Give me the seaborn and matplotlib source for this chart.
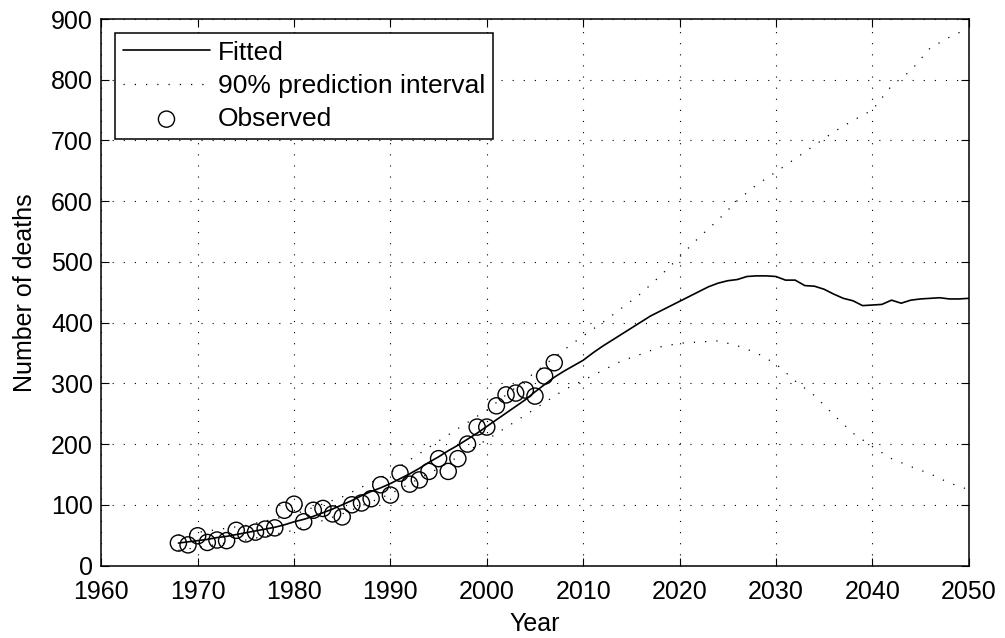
import numpy as np
import pandas as pd
import matplotlib
matplotlib.use("Agg")
import matplotlib.pyplot as plt
import seaborn as sns

# Observed annual deaths
obs_years = list(range(1968, 2008))
obs_deaths = [37, 34, 49, 38, 42, 41, 58, 52, 55, 60, 62, 91, 101, 72, 91, 94, 85, 80,
              100, 103, 110, 133, 116, 152, 134, 141, 155, 176, 155, 176, 200, 228,
              228, 263, 281, 284, 289, 279, 312, 334]

# Fitted model and projection
fit_years = list(range(1968, 2051))
fit_deaths = [37, 39, 41, 43, 46, 48, 51, 54, 57, 60, 63, 67,
              72, 76, 81, 87, 93, 100, 107, 115, 122, 128,
              135, 143, 151, 160, 170, 179, 189, 198, 208, 218,
              229, 240, 251, 262, 273, 286, 298, 310, 320, 329,
              338, 350, 361, 371, 381, 391, 401, 411, 419, 427,
              435, 443, 451, 459, 465, 469, 471, 476, 477, 477,
              476, 470, 470, 461, 460, 455, 447, 440, 436, 428,
              429, 430, 437, 432, 437, 439, 440, 441, 439, 439, 440]

# 90% prediction interval bounds
pi_years = [1968, 1975, 1980, 1985, 1990, 1995, 2000, 2005, 2008, 2010, 2012, 2014,
            2016, 2018, 2020, 2022, 2024, 2026, 2028, 2030, 2032, 2034, 2036, 2038,
            2040, 2042, 2044, 2046, 2048, 2050]
pi_upper = [50, 66, 84, 113, 153, 205, 256, 318, 355, 378, 400, 424,
            448, 477, 508, 540, 569, 601, 627, 648, 670, 692, 714, 733,
            750, 790, 815, 852, 870, 885]
pi_lower = [25, 42, 58, 85, 118, 160, 207, 258, 289, 305, 321, 337,
            348, 360, 366, 368, 370, 362, 350, 332, 304, 280, 248, 218,
            196, 176, 163, 151, 136, 125]

x_ticks = list(range(1960, 2051, 10))
y_ticks = list(range(0, 901, 100))

sns.set_theme(style="white")
plt.rcParams["font.family"] = ["Liberation Sans", "DejaVu Sans"]
plt.rcParams.update({
    "text.color": "black", "axes.labelcolor": "black",
    "xtick.direction": "in", "ytick.direction": "in",
    "xtick.top": True, "ytick.right": True,
    "xtick.bottom": True, "ytick.left": True,
    "xtick.major.size": 5.5, "ytick.major.size": 5.5,
    "xtick.major.width": 0.8, "ytick.major.width": 0.8,
    "xtick.color": "black", "ytick.color": "black",
    "axes.edgecolor": "black", "axes.linewidth": 1.1,
})

fig = plt.figure(figsize=(10.05, 6.38), dpi=100)
ax = fig.add_axes([0.1008, 0.1136, 0.8630, 0.8566])

dot = (0, (1, 8))

sns.lineplot(x=fit_years, y=fit_deaths, ax=ax, color="black", lw=1.2, label="Fitted")
sns.lineplot(x=pi_years, y=pi_upper, ax=ax, color="black", lw=0.9, linestyle=dot,
             label="90% prediction interval")
sns.lineplot(x=pi_years, y=pi_lower, ax=ax, color="black", lw=0.9, linestyle=dot)
sns.scatterplot(x=obs_years, y=obs_deaths, ax=ax, marker="o", s=135,
                facecolor="none", edgecolor="black", linewidth=1.0, label="Observed",
                zorder=3)

ax.set_xlim(1960, 2050)
ax.set_ylim(0, 900)
ax.set_xticks(x_ticks)
ax.set_yticks(y_ticks)
ax.tick_params(axis="both", labelsize=18)
ax.tick_params(axis="x", pad=10.5)
ax.tick_params(axis="y", pad=6)
ax.grid(True, color="black", linestyle=(0, (1, 9)), lw=0.8)

ax.set_xlabel("Year", fontsize=18, labelpad=6)
ax.set_ylabel("Number of deaths", fontsize=18, labelpad=10)

leg = ax.legend(loc="upper left", bbox_to_anchor=(0.0158, 0.975), borderaxespad=0,
                fontsize=19, frameon=True, fancybox=False, framealpha=1,
                edgecolor="black", handlelength=3.3, handletextpad=0.3,
                labelspacing=0.35, borderpad=0.3, scatterpoints=1)
leg.get_frame().set_linewidth(1.1)

fig.savefig("out.png", dpi=100, facecolor="white")
